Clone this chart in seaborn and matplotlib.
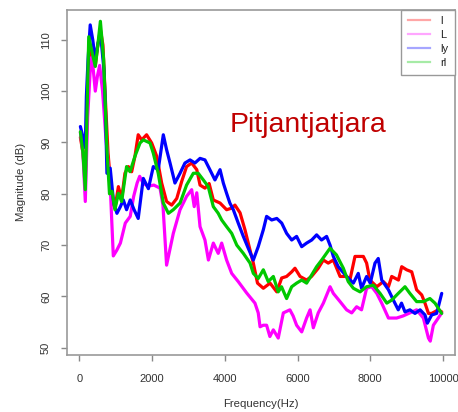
import numpy as np
import pandas as pd
import matplotlib
matplotlib.use("Agg")
import matplotlib.pyplot as plt
import seaborn as sns
from matplotlib.lines import Line2D

# ---------------- data ----------------
series_names = ["l", "L", "ly", "rl"]
series_colors = ["#ff0000", "#ff00ff", "#0000ff", "#00c800"]

l_freq = [30, 100, 165, 230, 300, 370, 440, 510, 580, 650,
          720, 790, 860, 935, 980, 1075, 1165, 1255, 1350, 1440,
          1530, 1620, 1715, 1850, 1990, 2130, 2265, 2400, 2540, 2680,
          2815, 2950, 3090, 3230, 3320, 3455, 3570, 3685, 3870, 4050,
          4190, 4280, 4420, 4555, 4695, 4785, 4900, 5060, 5245, 5430,
          5565, 5700, 5840, 5930, 6070, 6250, 6385, 6570, 6710, 6845,
          6985, 7170, 7350, 7440, 7580, 7810, 7900, 7990, 8180, 8360,
          8500, 8590, 8775, 8865, 9000, 9140, 9275, 9415, 9505, 9600,
          9690, 9870, 9965]
l_db = [91, 88, 83, 100, 108, 106, 105, 109, 112, 109,
        98, 88, 82, 78, 77.2, 81.4, 79, 84, 85.3, 84.3,
        87.3, 91.5, 90.5, 91.5, 89.9, 87.3, 82.1, 78.5, 77.8, 79.1,
        82.4, 85.3, 86, 84.7, 81.7, 81.1, 82, 78.8, 78.2, 76.9,
        77.2, 77.8, 76.3, 73, 69, 66.5, 62.6, 61.6, 62.6, 60.9,
        63.6, 63.9, 64.8, 65.5, 63.9, 63.2, 63.9, 65.5, 67.1, 66.5,
        67.1, 63.9, 63.9, 63.2, 67.8, 67.8, 66.5, 63.2, 61.9, 62.9,
        61.9, 63.9, 63.2, 65.8, 65.2, 64.8, 61.3, 60.3, 58.7, 56.7,
        56.7, 57.4, 57]

L_freq = [30, 100, 165, 230, 300, 350, 440, 500, 560, 640,
          720, 790, 860, 935, 1030, 1130, 1265, 1400, 1495, 1590,
          1660, 1760, 1900, 2050, 2220, 2300, 2400, 2585, 2770, 2950,
          3090, 3160, 3230, 3320, 3455, 3550, 3685, 3820, 3915, 4050,
          4190, 4370, 4600, 4830, 4920, 4970, 5060, 5150, 5240, 5335,
          5470, 5610, 5790, 5880, 5975, 6115, 6250, 6345, 6435, 6570,
          6710, 6895, 6985, 7170, 7350, 7490, 7625, 7760, 7900, 8040,
          8180, 8315, 8500, 8725, 8900, 9090, 9275, 9460, 9600, 9650,
          9735, 9870, 9965]
L_db = [92, 88, 78.5, 95, 104, 106.7, 100, 103, 105, 100,
        92, 86, 80, 67.9, 69, 70.4, 74.3, 75.6, 79.5, 82.1,
        83.4, 82, 81.5, 81.7, 81.1, 77.8, 66.1, 72.3, 76.9, 79.5,
        80.8, 77.5, 80.2, 73.6, 71, 67.1, 70.4, 68.4, 70.4, 67.1,
        64.5, 62.9, 60.7, 58.7, 56.8, 54.1, 54.4, 54.4, 52.2, 53.5,
        51.9, 56.8, 57.4, 56.2, 54.4, 53.1, 55.8, 57.4, 53.9, 56.8,
        58.7, 61.9, 60.6, 59, 57.4, 56.8, 58, 57.4, 61.6, 61.9,
        60.6, 58.7, 55.8, 55.8, 56.2, 56.8, 57.4, 55.8, 51.9, 51.3,
        54.4, 55.8, 56.8]

ly_freq = [30, 120, 165, 195, 240, 300, 370, 440, 520, 600,
           680, 720, 760, 850, 945, 1035, 1130, 1210, 1300, 1400,
           1500, 1620, 1760, 1900, 2035, 2170, 2310, 2400, 2495, 2630,
           2770, 2905, 3045, 3180, 3320, 3455, 3590, 3730, 3870, 3960,
           4050, 4140, 4235, 4370, 4510, 4645, 4785, 4920, 5060, 5150,
           5290, 5430, 5565, 5700, 5840, 5975, 6115, 6250, 6390, 6525,
           6660, 6800, 6895, 6985, 7120, 7350, 7535, 7670, 7760, 7900,
           8000, 8130, 8220, 8315, 8500, 8635, 8770, 8860, 8955, 9090,
           9230, 9370, 9505, 9570, 9690, 9825, 9965]
ly_db = [93.1, 90.5, 89, 99, 106, 112.9, 110, 106.1, 109.5, 110,
         104, 96, 84, 85, 78.2, 76.2, 77.5, 78.8, 76.9, 78.8,
         77, 75.2, 83, 81, 85.3, 84.7, 91.5, 88.6, 86, 82.1,
         84, 86, 86.6, 86, 86.9, 86.6, 84.7, 82.7, 84.7, 82.1,
         80.1, 78.2, 76.9, 74.3, 71.7, 69.4, 67.1, 69.7, 73, 75.6,
         74.9, 75.2, 74.3, 72.3, 71, 71.7, 69.7, 70.4, 71, 72,
         71, 71.7, 70, 67.8, 65.8, 63.9, 62.6, 64.5, 61.6, 63.9,
         62.6, 66.5, 67.4, 63.2, 61.3, 59.3, 57.4, 58.7, 57, 57.4,
         56.7, 57.4, 56.4, 54.8, 56.4, 56.7, 60.6]

rl_freq = [30, 100, 165, 260, 370, 440, 510, 580, 670, 720,
           760, 830, 900, 980, 1075, 1165, 1300, 1395, 1530, 1670,
           1760, 1945, 2035, 2170, 2310, 2450, 2585, 2770, 2950, 3135,
           3270, 3410, 3545, 3685, 3820, 3915, 4050, 4190, 4330, 4510,
           4695, 4785, 4920, 5060, 5195, 5335, 5470, 5560, 5700, 5840,
           5975, 6115, 6250, 6390, 6525, 6665, 6895, 7070, 7260, 7395,
           7535, 7720, 7900, 8085, 8270, 8455, 8590, 8770, 8955, 9090,
           9275, 9460, 9640, 9780, 9965]
rl_db = [92.1, 88, 80.8, 110.6, 107, 104.8, 109, 113.6, 106.1, 96.4,
         88.6, 80, 80.5, 76.9, 80.1, 78.5, 85.3, 84.3, 87.3, 89.9,
         90.5, 89.9, 87.9, 84, 78.2, 76.2, 76.9, 78.2, 81.7, 84,
         84, 82.7, 81.4, 77.5, 76.2, 74.9, 73.6, 72.3, 70, 68.4,
         66.5, 64.5, 63.5, 65.2, 62.9, 63.9, 60.9, 61.9, 59.6, 61.9,
         62.6, 63.2, 62.6, 64.2, 65.8, 67.1, 69.4, 68.1, 65.5, 62.9,
         61.6, 60.9, 61.9, 62.2, 60.6, 58.7, 59.3, 60.6, 61.9, 60.6,
         59, 59, 59.6, 58.7, 56.7]

x_ticks = [0, 2000, 4000, 6000, 8000, 10000]
y_ticks = [50, 60, 70, 80, 90, 100, 110]
title_text = "Pitjantjatjara"

# ---------------- build long table ----------------
frames = []
for name, fr, db in [("l", l_freq, l_db), ("L", L_freq, L_db),
                     ("ly", ly_freq, ly_db), ("rl", rl_freq, rl_db)]:
    frames.append(pd.DataFrame({"freq": fr, "db": db, "series": name}))
df = pd.concat(frames, ignore_index=True)

plt.rcParams["font.family"] = ["Liberation Sans", "DejaVu Sans"]

fig = plt.figure(figsize=(4.58, 4.12), dpi=100)
ax = fig.add_axes([67 / 458, 1 - 355 / 412, (455 - 67) / 458, (355 - 9.5) / 412])

palette = dict(zip(series_names, series_colors))
sns.lineplot(data=df, x="freq", y="db", hue="series", hue_order=series_names,
             palette=palette, estimator=None, sort=False, linewidth=2.3,
             legend=False, ax=ax)
for ln in ax.lines:
    ln.set_solid_joinstyle("round")
    ln.set_solid_capstyle("round")

ax.set_xlim(-338, 10330)
ax.set_ylim(48.6, 115.9)
ax.set_xticks(x_ticks)
ax.set_yticks(y_ticks)
ax.set_xticklabels([str(t) for t in x_ticks], fontsize=8, color="#333333")
ax.set_yticklabels([str(t) for t in y_ticks], fontsize=8, color="#333333",
                   rotation=90, va="center")
ax.tick_params(axis="both", direction="out", length=4.5, width=1.0,
               color="#888888")
ax.tick_params(axis="x", pad=9)
ax.tick_params(axis="y", pad=7)
for sp in ax.spines.values():
    sp.set_color("#999999")
    sp.set_linewidth(1.2)

ax.set_xlabel("Frequency(Hz)", fontsize=8.2, color="#333333")
ax.set_ylabel("Magnitude (dB)", fontsize=8.2, color="#333333")
ax.xaxis.set_label_coords(0.5, (355 - 399) / (355 - 9.5), transform=ax.transAxes)
ax.yaxis.set_label_coords((26 - 67) / (455 - 67), 0.5, transform=ax.transAxes)

ax.text(4143, 92.1, title_text, fontsize=20.5, color="#c00000",
        ha="left", va="baseline")

handles = [Line2D([0], [0], color=c, lw=1.6, alpha=0.35) for c in series_colors]
leg = ax.legend(handles, series_names, loc="upper right", borderaxespad=0,
                fontsize=8, handlelength=2.0, handletextpad=0.9,
                labelspacing=0.35, borderpad=0.6, fancybox=False,
                framealpha=1, edgecolor="#999999")
leg.get_frame().set_linewidth(1.0)
for t in leg.get_texts():
    t.set_color("#222222")

fig.savefig("out.png", dpi=100)
